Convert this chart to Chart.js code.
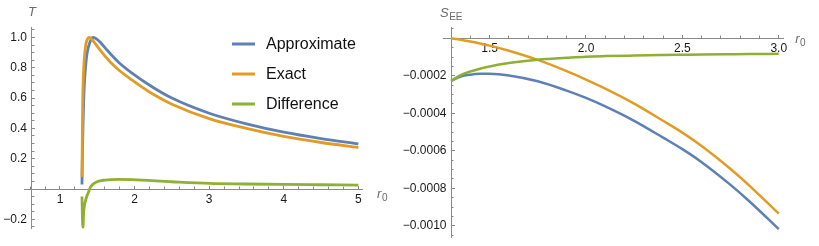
<!DOCTYPE html>
<html>
<head>
<meta charset="utf-8">
<script src="https://cdn.jsdelivr.net/npm/chart.js@4.4.1/dist/chart.umd.min.js"></script>
<style>
  html, body { margin: 0; padding: 0; background: #fff; }
  #wrap { position: relative; width: 819px; height: 246px; overflow: hidden; }
  .box { position: absolute; top: 0; height: 246px; }
  #left { left: 0; width: 390px; }
  #right { left: 390px; width: 429px; }
</style>
</head>
<body>
<div id="wrap">
  <div class="box" id="left"><canvas id="tChart" width="390" height="246"></canvas></div>
  <div class="box" id="right"><canvas id="sChart" width="429" height="246"></canvas></div>
</div>
<script>
// Left plot: T against r0
const tApproxR = [1.295, 1.3, 1.308, 1.318, 1.328, 1.342, 1.362, 1.389, 1.415, 1.438, 1.47, 1.52, 1.6, 1.7, 1.8, 1.965, 2.25, 2.5, 3.0, 3.5, 4.0, 4.5, 5.0];
const tApprox  = [0.03, 0.2, 0.4, 0.58, 0.70, 0.80, 0.89, 0.95, 0.985, 1.0, 0.996, 0.978, 0.935, 0.88, 0.83, 0.765, 0.67, 0.6, 0.5, 0.43, 0.375, 0.333, 0.298];
const tExactR  = [1.295, 1.299, 1.304, 1.312, 1.322, 1.335, 1.349, 1.369, 1.393, 1.415, 1.45, 1.536, 1.67, 1.804, 1.965, 2.25, 2.5, 3.0, 3.5, 4.0, 4.5, 5.0];
const tExact   = [0.08, 0.3, 0.55, 0.72, 0.83, 0.91, 0.96, 0.99, 1.0, 0.995, 0.975, 0.918, 0.84, 0.779, 0.72, 0.625, 0.56, 0.465, 0.4, 0.347, 0.307, 0.274];
const tDiffR   = [1.295, 1.3016, 1.3056, 1.311, 1.3177, 1.3284, 1.3391, 1.362, 1.385, 1.402, 1.429, 1.496, 1.603, 1.777, 1.965, 2.5, 3.0, 3.5, 4.0, 4.5, 5.0];
const tDiff    = [-0.05, -0.2, -0.255, -0.24, -0.15, -0.11, -0.084, -0.045, -0.018, 0.005, 0.026, 0.048, 0.059, 0.064, 0.062, 0.048, 0.037, 0.033, 0.03, 0.028, 0.026];
const tXLabels = [1, 2, 3, 4, 5];
const tYLabels = [-0.2, 0.2, 0.4, 0.6, 0.8, 1.0];

// Right plot: S_EE against r0
const sR       = [1.3, 1.35, 1.4, 1.45, 1.5, 1.6, 1.75, 1.9, 2.0, 2.1, 2.25, 2.4, 2.5, 2.6, 2.75, 2.85, 3.0];
const sApprox  = [-0.000227, -0.000204, -0.000194, -0.0001895, -0.000189, -0.000198, -0.000229, -0.000279, -0.000318, -0.000363, -0.00044, -0.0005295, -0.000591, -0.0006605, -0.0007818, -0.0008718, -0.001018];
const sExact   = [0, -0.000008, -0.000017, -0.0000275, -0.000039, -0.000066, -0.000115, -0.000175, -0.00022, -0.000268, -0.000348, -0.00044, -0.000503, -0.000574, -0.000697, -0.000788, -0.000935];
const sDiff    = [-0.000227, -0.000196, -0.000177, -0.000162, -0.00015, -0.000132, -0.000114, -0.000104, -0.000098, -0.000095, -0.000092, -0.0000895, -0.000088, -0.0000865, -0.0000848, -0.0000838, -0.000083];
const sXLabels = [1.5, 2.0, 2.5, 3.0];
const sYLabels = [-0.0002, -0.0004, -0.0006, -0.0008, -0.0010];

const seriesNames = ['Approximate', 'Exact', 'Difference'];

const BLUE = '#5e81b5';
const ORANGE = '#e19c24';
const GREEN = '#8fb032';
const AXIS_COLOR = '#8a8a8a';
const FONT = '"Liberation Sans", Arial, sans-serif';

const pts = (xs, ys) => xs.map((x, i) => ({ x: x, y: ys[i] }));
const minus = s => '\u2212' + s;

// minor tick positions between the labelled ones
function steps(min, max, step, skip) {
    const out = [];
    for (let i = Math.ceil(min / step - 1e-9); i * step <= max + 1e-12; i++) {
        const v = +(i * step).toPrecision(10);
        if (!skip.some(s => Math.abs(s - v) < step / 100)) out.push(v);
    }
    return out;
}

function scale(min, max, position, list, tickLen, fmt, border, pad) {
    return {
        type: 'linear',
        min: min,
        max: max,
        position: position,
        afterBuildTicks: s => { s.ticks = list.map(v => ({ value: v })); },
        border: { display: border, color: AXIS_COLOR, width: 1 },
        grid: {
            drawOnChartArea: false,
            drawTicks: tickLen !== 0,
            tickLength: tickLen,
            tickColor: AXIS_COLOR,
            tickWidth: 1
        },
        ticks: {
            autoSkip: false,
            maxRotation: 0,
            minRotation: 0,
            padding: pad,
            color: '#1a1a1a',
            font: { family: FONT, size: 12 },
            callback: fmt || (() => '')
        }
    };
}

// Mathematica-like axes crossing inside the plot
function axes(c) {
    const xMinor = steps(c.xMin, c.xMax, c.xStep, c.xLabels.concat([c.yAxisAt]));
    const yMinor = steps(c.yMin, c.yMax, c.yStep, c.yLabels.concat([0]));
    return {
        x:  scale(c.xMin, c.xMax, { y: 0 }, c.xLabels, -4, c.xFmt, true, 7),
        xn: scale(c.xMin, c.xMax, { y: 0 }, xMinor, -2.5, null, false, 0),
        y:  scale(c.yMin, c.yMax, { x: c.yAxisAt - c.labelGap }, c.yLabels, 0, c.yFmt, false, 0),
        ym: scale(c.yMin, c.yMax, { x: c.yAxisAt }, c.yLabels, -4, null, true, 0),
        yn: scale(c.yMin, c.yMax, { x: c.yAxisAt }, yMinor, -2.5, null, false, 0)
    };
}

function datasets(a, e, d, width) {
    return [
        { label: seriesNames[0], data: a, borderColor: BLUE, order: 3 },
        { label: seriesNames[1], data: e, borderColor: ORANGE, order: 2 },
        { label: seriesNames[2], data: d, borderColor: GREEN, order: 1 }
    ].map(ds => Object.assign(ds, {
        borderWidth: width,
        pointRadius: 0,
        fill: false,
        cubicInterpolationMode: 'monotone'
    }));
}

// axis names drawn at the ends of the axes, with subscripts
function drawName(ctx, main, sub, x, y, centred) {
    const mainFont = 'italic 13px ' + FONT;
    const subFont = '10px ' + FONT;
    ctx.font = mainFont;
    const w1 = ctx.measureText(main).width;
    ctx.font = subFont;
    const w2 = sub ? ctx.measureText(sub).width : 0;
    const x0 = centred ? x - (w1 + w2) / 2 : x;
    ctx.textBaseline = 'alphabetic';
    ctx.textAlign = 'left';
    ctx.font = mainFont;
    ctx.fillText(main, x0, y);
    if (sub) {
        ctx.font = subFont;
        ctx.fillText(sub, x0 + w1 + 0.5, y + 3);
    }
}

const axisNames = {
    id: 'axisNames',
    afterDraw(chart, args, o) {
        const { ctx, chartArea, scales } = chart;
        const yPix = scales.x.getPixelForValue(o.yAxisAt);
        const xPix = scales.y.getPixelForValue(0);
        ctx.save();
        ctx.fillStyle = '#6a6a6a';
        drawName(ctx, o.yName[0], o.yName[1], yPix, chartArea.top - o.yDy, true);
        drawName(ctx, o.xName[0], o.xName[1], chartArea.right + o.xDx, xPix + o.xDy, false);
        ctx.restore();
    }
};

const curveLegend = {
    id: 'curveLegend',
    afterDraw(chart, args, o) {
        if (!o.show) return;
        const ctx = chart.ctx;
        ctx.save();
        ctx.font = '16px ' + FONT;
        ctx.textBaseline = 'middle';
        ctx.textAlign = 'left';
        chart.data.datasets.forEach((ds, i) => {
            const y = o.top + i * o.rowGap;
            ctx.strokeStyle = ds.borderColor;
            ctx.lineWidth = 3;
            ctx.beginPath();
            ctx.moveTo(o.left, y);
            ctx.lineTo(o.left + o.lineLen, y);
            ctx.stroke();
            ctx.fillStyle = '#111';
            ctx.fillText(ds.label, o.left + o.lineLen + o.textGap, y + 1);
        });
        ctx.restore();
    }
};

function makeChart(id, data, scales, padding, names, legend) {
    return new Chart(document.getElementById(id), {
        type: 'line',
        data: { datasets: data },
        options: {
            responsive: false,
            animation: false,
            events: [],
            layout: { padding: padding },
            scales: scales,
            plugins: {
                legend: { display: false },
                tooltip: { enabled: false },
                title: { display: false },
                axisNames: names,
                curveLegend: legend
            }
        },
        plugins: [axisNames, curveLegend]
    });
}

makeChart('tChart',
    datasets(pts(tApproxR, tApprox), pts(tExactR, tExact), pts(tDiffR, tDiff), 2.8),
    axes({
        xMin: 0.53, xMax: 5.05, yMin: -0.26, yMax: 1.065,
        yAxisAt: 0.625, labelGap: 0.067,
        xLabels: tXLabels, yLabels: tYLabels, xStep: 0.2, yStep: 0.05,
        xFmt: v => String(v),
        yFmt: v => v < 0 ? minus(Math.abs(v).toFixed(1)) : v.toFixed(1)
    }),
    { left: 24.9, right: 27.9, top: 27.65, bottom: 17.6 },
    { yAxisAt: 0.625, yName: ['T', ''], xName: ['r', '0'], yDy: 11.5, xDx: 15, xDy: 9 },
    { show: true, left: 232, top: 44, rowGap: 30, lineLen: 23, textGap: 11 }
);

makeChart('sChart',
    datasets(pts(sR, sApprox), pts(sR, sExact), pts(sR, sDiff), 2.5),
    axes({
        xMin: 1.26, xMax: 3.023, yMin: -0.00106, yMax: 0.00006,
        yAxisAt: 1.3, labelGap: 0.0233,
        xLabels: sXLabels, yLabels: sYLabels, xStep: 0.1, yStep: 0.00005,
        xFmt: v => v.toFixed(1),
        yFmt: v => minus(Math.abs(v).toFixed(4))
    }),
    { left: 53.3, right: 35.8, top: 27.05, bottom: 8.95 },
    { yAxisAt: 1.3, yName: ['S', 'EE'], xName: ['r', '0'], yDy: 10, xDx: 12, xDy: 5 },
    { show: false }
);
</script>
</body>
</html>
